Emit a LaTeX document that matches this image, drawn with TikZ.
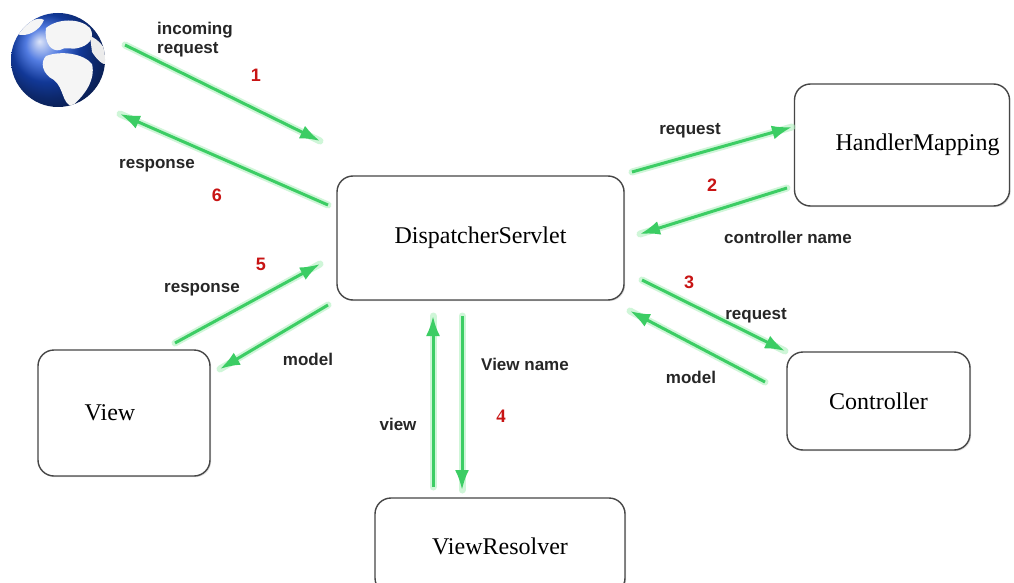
\documentclass[tikz,border=0pt]{standalone}
\usepackage{fontspec}
\setmainfont{Liberation Serif}
\setsansfont{Liberation Sans}
\usetikzlibrary{arrows.meta,shadows}
\definecolor{flowgreen}{RGB}{60,205,100}
\definecolor{glowgreen}{RGB}{175,240,190}
\definecolor{numred}{RGB}{200,20,20}
\definecolor{boxline}{RGB}{70,70,70}
\definecolor{ocean}{RGB}{25,80,215}
\tikzset{
  box/.style={draw=boxline, line width=1.4pt, rounded corners=16pt, fill=white,
    drop shadow={opacity=0.25, shadow xshift=1.2pt, shadow yshift=-1.2pt},
    font=\fontsize{24}{28}\selectfont, inner sep=0pt},
  lbl/.style={font=\sffamily\bfseries\fontsize{17}{20}\selectfont, text=black!85, inner sep=0pt},
  num/.style={font=\sffamily\bfseries\fontsize{18}{20}\selectfont, text=numred, inner sep=0pt},
  glow/.style={draw=glowgreen, line width=7pt, line cap=round, opacity=0.6},
  flow/.style={draw=flowgreen, line width=3pt, -{Latex[length=20pt,width=14pt]}},
}
\newcommand\flowarrow[2]{\draw[glow] (#1) -- (#2); \draw[flow] (#1) -- (#2);}
\begin{document}
\begin{tikzpicture}[x=1pt,y=-1pt]
\useasboundingbox[fill=white] (0,0) rectangle (1014,583);

% globe
\shade[ball color=ocean] (58,60) circle (47);
\begin{scope}
\clip (58,60) circle (47);
\fill[white!92!gray] (46,28) .. controls (58,18) and (80,18) .. (90,28)
  .. controls (96,38) and (88,46) .. (78,48) .. controls (70,50) and (66,46) .. (60,50)
  .. controls (52,52) and (44,44) .. (46,28) -- cycle;
\fill[white!92!gray] (46,56) .. controls (62,50) and (84,54) .. (92,64)
  .. controls (96,80) and (84,96) .. (72,106) .. controls (62,104) and (64,88) .. (54,80)
  .. controls (42,74) and (40,62) .. (46,56) -- cycle;
\fill[white!85!gray] (90,36) .. controls (100,40) and (108,50) .. (108,64)
  .. controls (102,66) and (96,58) .. (92,52) -- cycle;
\fill[white!92!gray] (16,34) .. controls (26,22) and (38,16) .. (44,20)
  .. controls (40,30) and (28,38) .. (16,34) -- cycle;
\end{scope}
\node (globe) at (58,60) [circle, minimum size=94pt, inner sep=0pt] {};

% boxes
\node[box, minimum width=287pt, minimum height=124pt] (ds) at (480.5,238) {DispatcherServlet};
\node[box, minimum width=215pt, minimum height=122pt] (hm) at (902,145) {\kern31pt HandlerMapping};
\node[box, minimum width=183pt, minimum height=98pt] (ctrl) at (878.5,401) {Controller};
\node[box, minimum width=172pt, minimum height=126pt] (view) at (124,413) {View\kern28pt};
\node[box, minimum width=250pt, minimum height=96pt, text depth=0pt] (vr) at (500,546) {ViewResolver};

% arrow end points
\coordinate (a1s) at (125,45);  \coordinate (a1e) at (320,141);
\coordinate (a6s) at (328,205); \coordinate (a6e) at (120,114);
\coordinate (a2s) at (632,172); \coordinate (a2e) at (792,127);
\coordinate (a2bs) at (787,188); \coordinate (a2be) at (640,234);
\coordinate (a3s) at (642,280); \coordinate (a3e) at (785,351);
\coordinate (a3bs) at (765,382); \coordinate (a3be) at (630,311);
\coordinate (a5s) at (175,343); \coordinate (a5e) at (320,264);
\coordinate (a5bs) at (328,305); \coordinate (a5be) at (220,369);
\coordinate (a4s) at (433,487); \coordinate (a4e) at (433,316);
\coordinate (a4bs) at (462,316); \coordinate (a4be) at (462,490);

\flowarrow{a1s}{a1e}
\flowarrow{a6s}{a6e}
\flowarrow{a2s}{a2e}
\flowarrow{a2bs}{a2be}
\flowarrow{a3s}{a3e}
\flowarrow{a3bs}{a3be}
\flowarrow{a5s}{a5e}
\flowarrow{a5bs}{a5be}
\flowarrow{a4s}{a4e}
\flowarrow{a4bs}{a4be}

% labels
\node[lbl, anchor=west, align=left] (l1) at (157,40) {incoming\\[-1pt]request};
\node[num] (n1) at (256,75) {1};
\node[lbl] (l6) at (157,166) {response};
\node[num] (n6) at (217,195) {6};
\node[lbl] (l2a) at (690,131) {request};
\node[num] (n2) at (712,185) {2};
\node[lbl] (l2b) at (788,237) {controller name};
\node[num] (n3) at (689,282) {3};
\node[lbl] (l3a) at (756,316) {request};
\node[lbl] (l3b) at (691,377) {model};
\node[lbl] (l5a) at (202,290) {response};
\node[num] (n5) at (261,264) {5};
\node[lbl] (l5b) at (308,359) {model};
\node[lbl] (l4a) at (525,364) {View name};
\node[lbl] (l4b) at (398,424) {view};
\node[num, font=\rmfamily\bfseries\fontsize{19}{20}\selectfont] (n4) at (501,416) {4};
\end{tikzpicture}
\end{document}
